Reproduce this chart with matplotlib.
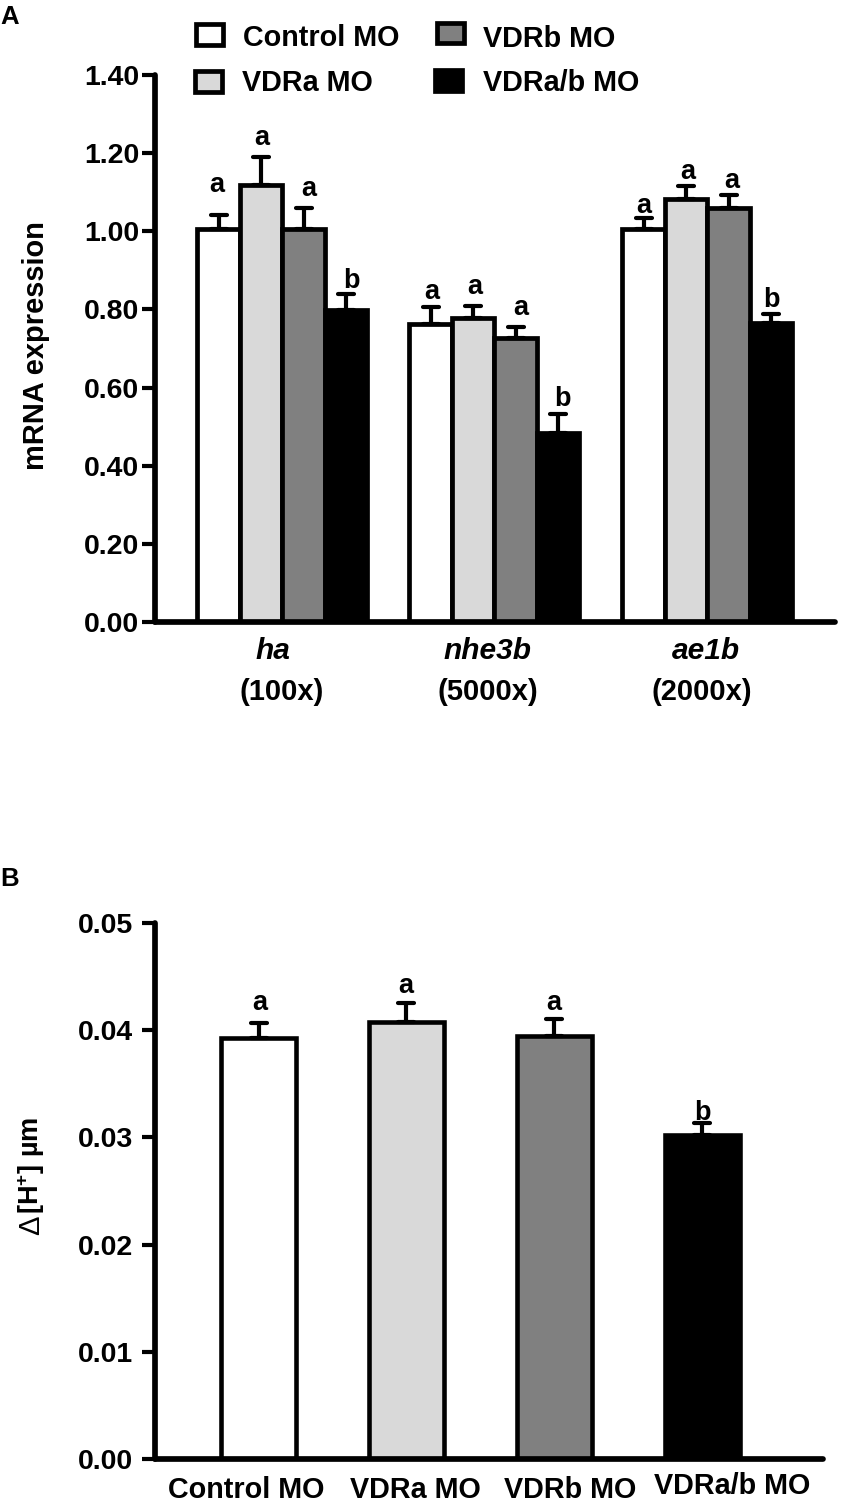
import numpy as np
import matplotlib
matplotlib.use('Agg')
import matplotlib.pyplot as plt
from matplotlib.markers import MarkerStyle
from matplotlib.patches import Rectangle
from matplotlib.transforms import ScaledTranslation

plt.rcParams['font.family'] = ['Liberation Sans', 'DejaVu Sans']
plt.rcParams['font.weight'] = 'bold'
plt.rcParams['mathtext.default'] = 'regular'

W, H = 841, 1502

# data
names = ['Control MO', 'VDRa MO', 'VDRb MO', 'VDRa/b MO']
colors = ['white', '#d9d9d9', '#808080', 'black']
genes = ['ha', 'nhe3b', 'ae1b']
folds = ['(100x)', '(5000x)', '(2000x)']
ha_vals = [1.005, 1.118, 1.005, 0.798]
ha_err = [0.037, 0.072, 0.055, 0.042]
nhe_vals = [0.762, 0.777, 0.726, 0.485]
nhe_err = [0.044, 0.032, 0.029, 0.047]
ae_vals = [1.005, 1.082, 1.059, 0.764]
ae_err = [0.029, 0.034, 0.034, 0.024]
yticks_a = [0.0, 0.2, 0.4, 0.6, 0.8, 1.0, 1.2, 1.4]
letters = ['a', 'a', 'a', 'b']
# height of the significance letters
ha_let = [1.100, 1.222, 1.090, 0.856]
nhe_let = [0.826, 0.839, 0.787, 0.552]
ae_let = [1.048, 1.133, 1.112, 0.805]

h_vals = [0.0393, 0.0408, 0.0395, 0.0302]
h_err = [0.0014, 0.0017, 0.0015, 0.0011]
h_let = [0.0419, 0.0435, 0.0419, 0.0316]
yticks_b = [0.0, 0.01, 0.02, 0.03, 0.04, 0.05]

fig = plt.figure(figsize=(W / 100, H / 100), dpi=100)


def make_ax(x0, x1, ytop, ybot, pad):
    ax = fig.add_axes([x0 / W, 1 - ybot / H, (x1 - x0) / W, (ybot - ytop) / H])
    ax.set_xlim(x0, x1)
    for s in ['top', 'right']:
        ax.spines[s].set_visible(False)
    for s in ['left', 'bottom']:
        ax.spines[s].set_linewidth(4.1)
        ax.spines[s].set_capstyle('round')
    ax.tick_params(axis='y', width=3, length=9.5, labelsize=20.5, pad=pad)
    ax.tick_params(axis='x', length=0)
    return ax


def err_bar(ax, x, val, err):
    _, caps, _ = ax.errorbar(x, val, yerr=[[0], [err]], color='black', elinewidth=3, capsize=5.5, capthick=3)
    for c in caps:
        c.set_marker(MarkerStyle('_', capstyle='round'))


# panel A, x axis counts pixels of the picture
ax1 = make_ax(155, 835, 75, 622, 1.8)
ax1.set_ylim(0, 1.4)
starts = [218.5, 430.5, 643.5]
step = 42.5
let_shift = [[-2, 1, 5, 5], [1, 2, 5, 4], [0, 2, 3, 0]]
gene_x = [273, 487, 706]
fold_x = [282, 488, 702]
rows = zip(starts, [ha_vals, nhe_vals, ae_vals], [ha_err, nhe_err, ae_err], [ha_let, nhe_let, ae_let], let_shift)
for st, vals, errs, lets, shift in rows:
    for i in range(4):
        x = st + i * step
        ax1.bar(x, vals[i], step, color=colors[i], edgecolor='black', linewidth=3.4)
        err_bar(ax1, x, vals[i], errs[i])
        ax1.text(x + shift[i], lets[i], letters[i], ha='center', va='baseline', fontsize=19.5)
for g in range(3):
    fig.text(gene_x[g] / W, 1 - 651 / H, genes[g], ha='center', va='center', fontsize=21.5, style='italic')
    fig.text(fold_x[g] / W, 1 - 692 / H, folds[g], ha='center', va='center', fontsize=21)
ax1.set_xticks([])
ax1.set_yticks(yticks_a)
ax1.set_yticklabels(['%.2f' % v for v in yticks_a])
fig.text(36 / W, 1 - 346 / H, 'mRNA expression', rotation=90, ha='center', va='center', fontsize=20.9)

# legend drawn by hand like the figure
leg_box = [(196, 24.5), (195, 71.5), (437, 23), (435, 70.5)]
leg_txt = [(243, 38), (242, 83), (483, 39), (483, 83)]
for (bx, by), (tx, ty), c, n in zip(leg_box, leg_txt, colors, names):
    fig.add_artist(Rectangle((bx / W, 1 - (by + 20) / H), 27 / W, 20 / H, facecolor=c, edgecolor='black', linewidth=3.4, transform=fig.transFigure))
    fig.text(tx / W, 1 - ty / H, n, ha='left', va='center', fontsize=20.7)

# panel B
ax2 = make_ax(155, 823, 923, 1459, 6.5)
ax2.set_ylim(0, 0.05)
xpos = [258.5, 406, 554, 702]
let_x = [260, 406, 554, 702]
for i in range(4):
    ax2.bar(xpos[i], h_vals[i], 75, color=colors[i], edgecolor='black', linewidth=3.3)
    err_bar(ax2, xpos[i], h_vals[i], h_err[i])
    ax2.text(let_x[i], h_let[i], letters[i], ha='center', va='baseline', fontsize=19.5)
ax2.set_xticks([246, 415, 570, 732])
ax2.set_xticklabels(names, fontsize=20.7)
ax2.tick_params(axis='x', pad=12)
# last label sits a little higher
last = ax2.get_xticklabels()[-1]
last.set_transform(last.get_transform() + ScaledTranslation(0, 4 / 100, fig.dpi_scale_trans))
ax2.set_yticks(yticks_b)
ax2.set_yticklabels(['%.2f' % v for v in yticks_b])
fig.text(31 / W, 1 - 1225 / H, 'Δ', rotation=90, ha='center', va='center', fontsize=21, fontweight='normal')
fig.text(31 / W, 1 - 1214 / H, '[H$^{+}$] µm', rotation=90, ha='center', va='bottom', fontsize=19.5)

fig.text(0, 1 - 17 / H, 'A', fontsize=18.5, ha='left', va='center')
fig.text(0, 1 - 879 / H, 'B', fontsize=18.5, ha='left', va='center')

fig.savefig('out.png', dpi=100)
